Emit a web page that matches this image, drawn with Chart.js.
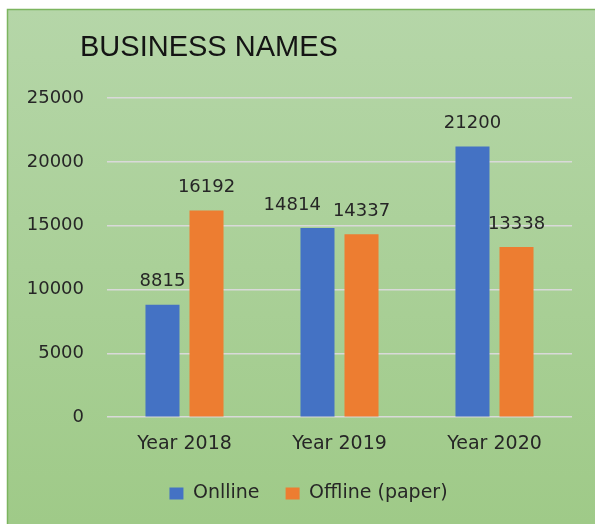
<!DOCTYPE html>
<html>
<head>
<meta charset="utf-8">
<script src="https://cdn.jsdelivr.net/npm/chart.js@4.4.1/dist/chart.umd.min.js"></script>
<style>
  html, body { margin: 0; padding: 0; background: #fff; }
  canvas { display: block; }
</style>
</head>
<body>
<canvas id="myChart" width="595" height="524"></canvas>
<script>
const categories = ['Year 2018', 'Year 2019', 'Year 2020'];
const online = [8815, 14814, 21200];
const offline = [16192, 14337, 13338];
const yTicks = [0, 5000, 10000, 15000, 20000, 25000];
const chartTitle = 'BUSINESS NAMES';

Chart.defaults.font.family = 'DejaVu Sans';
Chart.defaults.font.size = 18;
Chart.defaults.color = '#262626';

// green panel behind everything
const panel = {
    id: 'panel',
    afterLayout(chart) {
        // legend sits a bit right of the canvas centre in the original
        chart.legend.left += 9;
        chart.legend.right += 9;
    },
    beforeDraw(chart) {
        const c = chart.ctx;
        c.save();
        c.fillStyle = '#ffffff';
        c.fillRect(0, 0, chart.width, chart.height);
        const g = c.createLinearGradient(0, 9, 0, chart.height);
        g.addColorStop(0, '#b5d6a8');
        g.addColorStop(1, '#9fca88');
        c.fillStyle = g;
        c.fillRect(7, 9, chart.width - 7, chart.height - 9);
        c.strokeStyle = '#7cb55f';
        c.lineWidth = 1.5;
        c.beginPath();
        c.moveTo(7.5, chart.height);
        c.lineTo(7.5, 9.5);
        c.lineTo(chart.width, 9.5);
        c.stroke();
        // title
        c.fillStyle = '#141414';
        c.font = '29px "Liberation Sans"';
        c.textBaseline = 'alphabetic';
        c.fillText(chartTitle, 80, 56);
        c.restore();
    }
};

// value labels above the bars, left one pushed aside when they collide
const valueLabels = {
    id: 'valueLabels',
    afterDatasetsDraw(chart) {
        const c = chart.ctx;
        c.save();
        c.font = '18px "DejaVu Sans"';
        c.fillStyle = '#262626';
        c.textAlign = 'center';
        c.textBaseline = 'middle';
        const m0 = chart.getDatasetMeta(0).data;
        const m1 = chart.getDatasetMeta(1).data;
        m0.forEach((bar, j) => {
            const t0 = String(online[j]), t1 = String(offline[j]);
            const b1 = m1[j];
            const w0 = c.measureText(t0).width, w1 = c.measureText(t1).width;
            let x0 = bar.x;
            const y0 = bar.y - 23, y1 = b1.y - 23;
            if (Math.abs(y0 - y1) < 20) {
                const right0 = x0 + w0 / 2;
                const left1 = b1.x - w1 / 2;
                if (right0 > left1 - 12) x0 -= right0 - (left1 - 12);
            }
            c.fillText(t0, x0, y0);
            c.fillText(t1, b1.x, y1);
        });
        c.restore();
    }
};

new Chart(document.getElementById('myChart'), {
    type: 'bar',
    data: {
        labels: categories,
        datasets: [{
            label: 'Onlline',
            data: online,
            backgroundColor: '#4472c4'
        }, {
            label: 'Offline (paper)',
            data: offline,
            backgroundColor: '#ed7d31'
        }]
    },
    options: {
        responsive: false,
        animation: false,
        categoryPercentage: 0.568,
        barPercentage: 0.773,
        layout: {
            padding: { left: 27, right: 23, top: 98, bottom: 11 }
        },
        scales: {
            x: {
                grid: { display: false, drawTicks: false },
                border: { display: false },
                ticks: { padding: 15, font: { size: 19 } }
            },
            y: {
                min: 0,
                max: 25000,
                afterBuildTicks(axis) {
                    axis.ticks = yTicks.map(v => ({ value: v }));
                },
                afterFit(axis) {
                    axis.width = 80;
                },
                grid: { color: '#d9d9d9', lineWidth: 1.5, drawTicks: false },
                border: { display: false },
                ticks: {
                    padding: 23,
                    callback: v => String(v)
                }
            }
        },
        plugins: {
            legend: {
                position: 'bottom',
                labels: {
                    boxWidth: 14,
                    boxHeight: 12,
                    padding: 14,
                    font: { size: 19 },
                    generateLabels(chart) {
                        const items = Chart.defaults.plugins.legend.labels.generateLabels(chart);
                        items[0].text += '  ';
                        return items;
                    }
                }
            },
            tooltip: { enabled: false }
        }
    },
    plugins: [panel, valueLabels]
});
</script>
</body>
</html>
